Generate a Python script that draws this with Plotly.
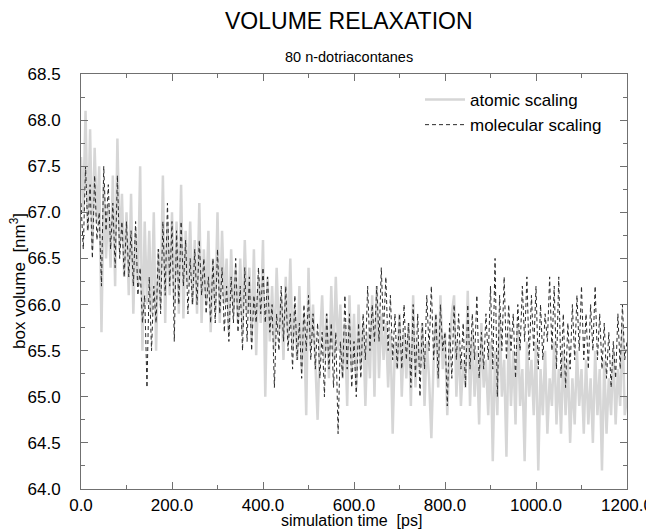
import plotly.graph_objects as go

# simulation time [ps], sampled every 5 ps
time_ps = [5 * i for i in range(241)]

atomic_scaling = [
    67.6, 67.0, 68.1, 66.8, 67.9, 66.6, 67.7, 66.9, 67.5, 65.7,
    67.3, 66.5, 67.1, 66.4, 67.4, 66.2, 67.8, 66.6, 67.2, 66.3,
    67.0, 66.1, 67.2, 65.9, 66.8, 66.2, 67.5, 65.5, 66.9, 66.0,
    66.8, 65.9, 67.0, 65.5, 66.6, 66.0, 67.4, 65.8, 66.9, 66.1,
    67.0, 66.0, 66.9, 65.9, 67.3, 65.85, 66.8, 66.2, 66.9, 66.0,
    66.7, 65.9, 67.1, 65.8, 66.6, 66.0, 66.8, 65.7, 66.5, 65.9,
    67.0, 65.8, 66.8, 66.0, 66.5, 65.7, 66.6, 65.9, 66.4, 65.8,
    66.5, 65.7, 66.7, 65.9, 66.4, 65.6, 66.6, 65.45, 66.3, 65.8,
    66.7, 65.0, 66.3, 65.6, 66.2, 65.5, 66.4, 65.7, 66.1, 65.4,
    66.3, 65.6, 66.5, 65.5, 66.0, 65.4, 66.2, 65.3, 65.9, 64.8,
    66.4, 65.5, 66.0, 65.3, 64.75, 65.6, 66.1, 65.4, 65.9, 65.2,
    66.2, 65.4, 66.3, 65.5, 66.0, 65.2, 65.8, 64.9, 66.1, 65.3,
    65.9, 65.1, 66.0, 65.3, 65.8, 64.9, 65.7, 65.2, 66.1, 65.0,
    66.2, 65.2, 65.9, 65.4, 65.8, 65.1, 65.7, 64.6, 65.6, 65.3,
    65.9, 65.0, 65.7, 65.2, 65.8, 64.9, 66.1, 65.1, 65.6, 65.3,
    65.8, 64.9, 65.6, 65.2, 64.55, 65.4, 65.9, 65.1, 66.1, 65.3,
    65.7, 64.8, 65.5, 65.9, 66.1, 65.0, 65.6, 64.9, 65.4, 65.1,
    66.15, 64.9, 65.7, 65.0, 65.5, 64.7, 65.8, 65.1, 65.4, 64.8,
    65.6, 64.3, 65.5, 64.8, 65.9, 65.0, 65.4, 64.35, 65.7, 64.9,
    65.5, 64.7, 65.8, 64.9, 65.3, 64.3, 65.6, 65.0, 65.4, 64.8,
    65.6, 64.2, 65.3, 64.8, 65.5, 64.6, 65.2, 64.9, 65.6, 64.7,
    65.3, 64.6, 65.5, 64.8, 65.4, 64.5, 65.2, 64.7, 65.5, 64.9,
    65.3, 64.6, 65.4, 64.7, 65.2, 64.5, 65.5, 64.8, 65.3, 64.2,
    65.4, 64.6, 65.2, 64.8, 65.5, 64.7, 65.3, 64.9, 65.8, 64.8,
    65.0,
]

molecular_scaling = [
    67.1, 66.6, 67.5, 66.8, 67.3, 66.5, 67.4, 66.7, 67.0, 66.2,
    67.5, 66.8, 67.3, 66.6, 67.1, 66.4, 67.4, 66.5, 66.9, 66.3,
    66.9, 66.3, 66.8, 66.2, 66.9, 66.1, 66.4, 65.8, 66.1, 65.1,
    66.3, 65.5, 66.2, 65.8, 66.6, 65.9, 66.9, 66.1, 67.1, 66.2,
    66.9, 65.6, 66.8, 66.0, 66.9, 66.2, 66.7, 65.9, 66.5, 66.0,
    66.6, 66.0, 66.7, 66.1, 66.5, 65.9, 66.3, 65.8, 66.5, 65.8,
    66.6, 65.9, 66.4, 65.7, 66.2, 65.6, 66.3, 65.8, 66.5, 65.7,
    66.2, 65.5, 66.4, 65.6, 66.3, 65.5, 66.1, 65.8, 66.4, 65.9,
    66.4, 65.8, 66.3, 65.7, 66.0, 65.1, 65.9, 65.5, 66.2, 65.6,
    66.2, 65.5, 65.9, 65.3, 66.1, 65.4, 65.8, 65.2, 66.0, 65.5,
    66.1, 65.4, 65.9, 65.3, 65.8, 65.2, 65.7, 65.0, 65.9, 65.3,
    65.8, 65.1, 65.7, 64.6, 65.6, 65.2, 66.1, 65.3, 65.9, 65.1,
    65.6, 65.0, 65.8, 65.2, 65.9, 65.4, 66.2, 65.5, 66.0, 65.6,
    66.2, 65.6, 66.4, 65.7, 66.3, 65.5, 66.1, 65.4, 65.9, 65.3,
    65.9, 65.3, 66.0, 65.4, 65.8, 65.1, 66.0, 65.2, 65.9, 65.0,
    65.8, 65.3, 66.1, 65.5, 66.2, 65.4, 65.9, 65.2, 66.0, 65.5,
    65.7, 64.9, 65.8, 65.2, 66.0, 65.4, 65.9, 65.3, 65.8, 65.1,
    66.0, 65.3, 65.9, 65.4, 66.1, 65.2, 65.7, 65.3, 65.9, 65.4,
    66.2, 65.3, 66.5, 65.0, 66.1, 65.5, 66.3, 65.4, 66.0, 65.5,
    65.9, 65.2, 66.0, 65.5, 66.2, 65.6, 66.3, 65.4, 66.1, 65.5,
    66.2, 65.3, 66.0, 65.4, 65.9, 65.6, 66.3, 65.5, 66.2, 65.3,
    66.3, 65.2, 65.9, 65.1, 65.8, 65.3, 66.0, 65.4, 66.1, 65.5,
    66.2, 65.4, 65.9, 65.3, 66.0, 65.5, 66.2, 65.4, 65.9, 65.3,
    65.8, 65.2, 65.7, 65.1, 65.6, 65.2, 65.9, 65.3, 66.0, 65.4,
    65.6,
]

x_tick_values = [0, 200, 400, 600, 800, 1000, 1200]
y_tick_values = [64.0, 64.5, 65.0, 65.5, 66.0, 66.5, 67.0, 67.5, 68.0, 68.5]

FONT = "Liberation Sans, Arial, Helvetica, sans-serif"

# the page body adds an 8px margin, so the figure is shifted by that much
OFF = 8
W, H = 654 - OFF, 531 - OFF
# plot area in figure pixels (left, right, top, bottom)
L, R, T, B = 81 - OFF, 627 - OFF, 74 - OFF, 489 - OFF
plot_w, plot_h = R - L, B - T


def py(page_y):
    """paper y coordinate for a page pixel row"""
    return (B - (page_y - OFF)) / plot_h


def px(page_x):
    """paper x coordinate for a page pixel column"""
    return ((page_x - OFF) - L) / plot_w


fig = go.Figure()
fig.add_trace(go.Scatter(
    x=time_ps, y=atomic_scaling, mode="lines", name="atomic scaling",
    line=dict(color="#d6d6d6", width=2.5),
))
fig.add_trace(go.Scatter(
    x=time_ps, y=molecular_scaling, mode="lines", name="molecular scaling",
    line=dict(color="#2a2a2a", width=1, dash="4px,3px"),
))

axis_common = dict(
    showgrid=False, zeroline=False, showline=True, linecolor="#707070", linewidth=1,
    mirror="ticks", ticks="inside", ticklen=7, tickcolor="#707070",
    tickfont=dict(size=17, color="#000", family=FONT), tickformat=".1f",
    automargin=False,
)

fig.update_layout(
    width=W, height=H,
    margin=dict(l=L, r=W - R, t=T, b=H - B, autoexpand=False),
    paper_bgcolor="white", plot_bgcolor="white",
    font=dict(family=FONT, color="#000"),
    showlegend=True,
    legend=dict(x=px(420), y=py(82),
                xanchor="left", yanchor="top",
                bgcolor="rgba(0,0,0,0)", font=dict(size=17, family=FONT),
                tracegroupgap=0, itemwidth=40),
    xaxis=dict(range=[0, 1200], tickvals=x_tick_values, ticklabelstandoff=1,
               minor=dict(ticks="inside", ticklen=4, dtick=100, tickcolor="#707070"),
               **axis_common),
    yaxis=dict(range=[64.0, 68.5], tickvals=y_tick_values, ticklabelstandoff=16,
               minor=dict(ticks="inside", ticklen=4, dtick=0.25, tickcolor="#707070"),
               **axis_common),
    annotations=[
        dict(text="VOLUME RELAXATION", x=px(349), y=py(21),
             xref="paper", yref="paper", yanchor="middle",
             showarrow=False, font=dict(size=23, family=FONT)),
        dict(text="80 n-dotriacontanes", x=px(349), y=py(57),
             xref="paper", yref="paper", yanchor="middle",
             showarrow=False, font=dict(size=14.5, family=FONT)),
        dict(text="simulation time  [ps]", x=px(351), y=py(520),
             xref="paper", yref="paper", yanchor="middle",
             showarrow=False, font=dict(size=16, family=FONT)),
        dict(text="box volume  [nm<sup>3</sup>]", x=px(18), y=py(281),
             xref="paper", yref="paper", xanchor="center", yanchor="middle",
             textangle=-90, showarrow=False, font=dict(size=17, family=FONT)),
    ],
)

fig.write_html("out.html")
